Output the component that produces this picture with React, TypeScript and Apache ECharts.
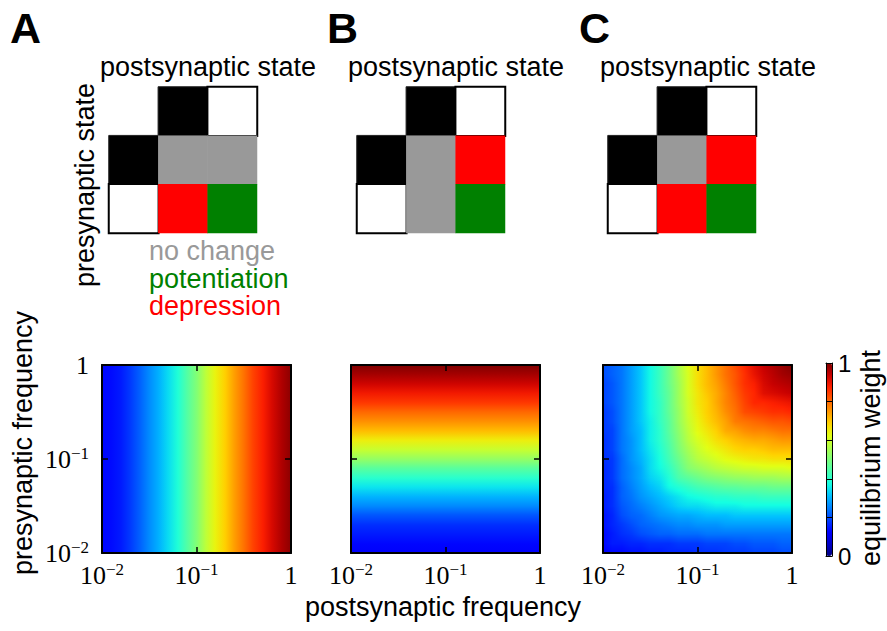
import React, { useEffect, useRef } from 'react';
import * as echarts from 'echarts';

// log10 of frequency at each sample (10^-2 … 1)
const freqExponents = ['-2.0', '-1.9', '-1.8', '-1.7', '-1.6', '-1.5', '-1.4', '-1.3', '-1.2', '-1.1', '-1.0',
  '-0.9', '-0.8', '-0.7', '-0.6', '-0.5', '-0.4', '-0.3', '-0.2', '-0.1', '0.0'];

// axis ticks (log10) and their labels
const tickExponents = [-2, -1, 0];
const tickBases = ['10', '10', '1'];
const tickPowers = ['−2', '−1', ''];

// A: equilibrium weight vs postsynaptic frequency (constant along presynaptic)
const weightA = [0.13, 0.135, 0.15, 0.18, 0.22, 0.26, 0.30, 0.34, 0.39, 0.45, 0.51,
  0.58, 0.64, 0.69, 0.74, 0.79, 0.84, 0.88, 0.92, 0.96, 0.99];

// B: equilibrium weight vs presynaptic frequency (constant along postsynaptic)
const weightB = [0.12, 0.13, 0.15, 0.17, 0.21, 0.26, 0.30, 0.35, 0.40, 0.46, 0.53,
  0.59, 0.65, 0.71, 0.76, 0.80, 0.85, 0.89, 0.93, 0.97, 1.0];

// C: rows from presynaptic 1 (top) to 10^-2 (bottom); columns postsynaptic 10^-2 … 1
const weightC = [
  [0.20, 0.22, 0.24, 0.28, 0.32, 0.37, 0.42, 0.48, 0.55, 0.62, 0.67, 0.71, 0.75, 0.79, 0.83, 0.87, 0.91, 0.94, 0.96, 0.98, 1.00],
  [0.20, 0.22, 0.24, 0.28, 0.32, 0.37, 0.42, 0.48, 0.55, 0.61, 0.67, 0.71, 0.75, 0.79, 0.82, 0.86, 0.90, 0.93, 0.95, 0.97, 0.98],
  [0.19, 0.21, 0.24, 0.28, 0.32, 0.37, 0.42, 0.48, 0.54, 0.61, 0.67, 0.71, 0.74, 0.78, 0.82, 0.86, 0.88, 0.92, 0.94, 0.95, 0.96],
  [0.19, 0.21, 0.24, 0.28, 0.32, 0.37, 0.42, 0.47, 0.54, 0.61, 0.66, 0.70, 0.73, 0.77, 0.81, 0.85, 0.87, 0.91, 0.92, 0.93, 0.94],
  [0.19, 0.21, 0.24, 0.28, 0.32, 0.37, 0.41, 0.47, 0.54, 0.60, 0.66, 0.69, 0.73, 0.77, 0.80, 0.84, 0.87, 0.87, 0.88, 0.89, 0.90],
  [0.18, 0.20, 0.24, 0.28, 0.32, 0.37, 0.41, 0.47, 0.53, 0.60, 0.65, 0.69, 0.72, 0.76, 0.79, 0.83, 0.84, 0.85, 0.86, 0.86, 0.87],
  [0.18, 0.20, 0.24, 0.28, 0.32, 0.36, 0.41, 0.46, 0.53, 0.59, 0.64, 0.68, 0.71, 0.74, 0.78, 0.79, 0.80, 0.81, 0.82, 0.82, 0.83],
  [0.18, 0.19, 0.24, 0.28, 0.31, 0.36, 0.40, 0.46, 0.52, 0.58, 0.63, 0.66, 0.69, 0.73, 0.74, 0.76, 0.77, 0.77, 0.78, 0.79, 0.79],
  [0.17, 0.19, 0.24, 0.27, 0.31, 0.36, 0.40, 0.45, 0.51, 0.57, 0.61, 0.64, 0.67, 0.69, 0.71, 0.72, 0.73, 0.73, 0.74, 0.75, 0.75],
  [0.17, 0.19, 0.24, 0.27, 0.31, 0.35, 0.39, 0.44, 0.50, 0.55, 0.59, 0.62, 0.64, 0.66, 0.68, 0.69, 0.69, 0.70, 0.71, 0.71, 0.71],
  [0.17, 0.18, 0.23, 0.27, 0.30, 0.34, 0.38, 0.43, 0.48, 0.53, 0.57, 0.59, 0.61, 0.63, 0.64, 0.65, 0.66, 0.66, 0.67, 0.67, 0.67],
  [0.16, 0.18, 0.23, 0.26, 0.29, 0.34, 0.37, 0.41, 0.46, 0.51, 0.53, 0.55, 0.57, 0.58, 0.59, 0.60, 0.60, 0.61, 0.61, 0.61, 0.62],
  [0.16, 0.18, 0.23, 0.26, 0.29, 0.33, 0.35, 0.39, 0.44, 0.46, 0.48, 0.50, 0.51, 0.52, 0.53, 0.53, 0.54, 0.54, 0.54, 0.55, 0.55],
  [0.16, 0.17, 0.22, 0.25, 0.28, 0.31, 0.33, 0.37, 0.39, 0.41, 0.43, 0.44, 0.45, 0.46, 0.46, 0.47, 0.47, 0.47, 0.48, 0.48, 0.48],
  [0.15, 0.17, 0.22, 0.24, 0.27, 0.29, 0.31, 0.33, 0.35, 0.37, 0.38, 0.39, 0.40, 0.40, 0.41, 0.41, 0.41, 0.42, 0.42, 0.42, 0.42],
  [0.15, 0.17, 0.21, 0.23, 0.25, 0.27, 0.29, 0.31, 0.33, 0.34, 0.34, 0.35, 0.36, 0.36, 0.36, 0.37, 0.37, 0.37, 0.37, 0.37, 0.37],
  [0.14, 0.16, 0.20, 0.22, 0.23, 0.25, 0.27, 0.28, 0.29, 0.29, 0.30, 0.31, 0.31, 0.31, 0.32, 0.32, 0.32, 0.32, 0.32, 0.32, 0.32],
  [0.14, 0.16, 0.18, 0.20, 0.22, 0.23, 0.24, 0.25, 0.26, 0.26, 0.27, 0.27, 0.27, 0.28, 0.28, 0.28, 0.28, 0.28, 0.28, 0.28, 0.28],
  [0.13, 0.15, 0.17, 0.18, 0.20, 0.21, 0.22, 0.22, 0.23, 0.23, 0.23, 0.24, 0.24, 0.24, 0.24, 0.24, 0.24, 0.24, 0.24, 0.24, 0.24],
  [0.13, 0.15, 0.15, 0.16, 0.16, 0.17, 0.17, 0.17, 0.18, 0.18, 0.18, 0.19, 0.19, 0.19, 0.20, 0.20, 0.21, 0.21, 0.21, 0.22, 0.22],
  [0.12, 0.13, 0.13, 0.14, 0.14, 0.15, 0.15, 0.16, 0.16, 0.16, 0.17, 0.17, 0.17, 0.18, 0.18, 0.18, 0.19, 0.19, 0.19, 0.20, 0.20],
];

// schematic plasticity rules: rows = presynaptic state (black, white), cols = postsynaptic state (black, white)
const outcomes = ['no change', 'potentiation', 'depression'];
const outcomeColors = ['#999999', '#008000', '#ff0000'];
const stateColors = ['#000000', '#ffffff'];
const ruleA = [['no change', 'no change'], ['depression', 'potentiation']];
const ruleB = [['no change', 'depression'], ['no change', 'potentiation']];
const ruleC = [['no change', 'depression'], ['depression', 'potentiation']];
const panelLetters = ['A', 'B', 'C'];

const jetColors = ['#000080', '#0000c8', '#0000ff', '#0040ff', '#0080ff', '#00bfff', '#14ffe2', '#48ffaf',
  '#7bff7b', '#afff48', '#e2ff14', '#ffd200', '#ff9700', '#ff5c00', '#ff2100', '#c80000', '#800000'];

const SANS = 'Liberation Sans';
const SERIF = 'Liberation Serif';

const jetRgb = jetColors.map((h) => [1, 3, 5].map((p) => parseInt(h.slice(p, p + 2), 16)));
function jet(v: number) {
  const t = Math.max(0, Math.min(1, v)) * (jetRgb.length - 1);
  const k = Math.min(jetRgb.length - 2, Math.floor(t));
  const f = t - k;
  const c = jetRgb[k].map((a, n) => Math.round(a + (jetRgb[k + 1][n] - a) * f));
  return `rgb(${c[0]},${c[1]},${c[2]})`;
}

const exps = freqExponents.map(Number);
const N = exps.length;

function gradientRect(x: number, y: number, w: number, h: number, colors: string[], horizontal: boolean) {
  const stops = colors.map((color, k) => ({ offset: k / (colors.length - 1), color }));
  return {
    type: 'rect',
    shape: { x, y, width: w, height: h },
    style: { fill: new echarts.graphic.LinearGradient(0, 0, horizontal ? 1 : 0, horizontal ? 0 : 1, stops) },
  };
}

function buildOption() {
  const mapLefts = [102, 351, 603];
  const schemeLefts = [109, 357, 608];
  const grid: any[] = mapLefts.map((l) => ({ left: l, top: 365, width: 189, height: 188 }));
  grid.push({ left: 826, top: 363, width: 6, height: 193 });
  schemeLefts.forEach((l) => grid.push({ left: l, top: 87, width: 148, height: 146 }));

  const tickFormatter = (v: number) => {
    const k = tickExponents.indexOf(Math.round(v));
    if (k < 0) return '';
    return tickPowers[k] ? `{b|${tickBases[k]}}{p|${tickPowers[k]}}` : `{b|${tickBases[k]}}`;
  };
  const rich = {
    b: { fontFamily: SERIF, fontSize: 26, lineHeight: 28, color: '#000' },
    p: { fontFamily: SERIF, fontSize: 17, lineHeight: 17, verticalAlign: 'top', color: '#000' },
  };
  const valueAxis = (k: number, position: string, labels: boolean) => ({
    gridIndex: k, type: 'value', position, min: tickExponents[0], max: tickExponents[2], interval: 1, z: 5,
    axisLine: { show: true, onZero: false, lineStyle: { color: '#000', width: 2 } },
    axisTick: { show: true, inside: true, length: 6, lineStyle: { color: '#000', width: 1.5 } },
    splitLine: { show: false },
    axisLabel: { show: labels, margin: position === 'bottom' ? 8 : 13, formatter: tickFormatter, rich },
  });

  const xAxis: any[] = [];
  const yAxis: any[] = [];
  mapLefts.forEach((_, k) => {
    xAxis.push(valueAxis(k, 'bottom', true));
    xAxis.push(valueAxis(k, 'top', false));
    yAxis.push(valueAxis(k, 'left', k === 0));
    yAxis.push(valueAxis(k, 'right', false));
  });
  const cbLine = { show: true, onZero: false, lineStyle: { color: '#000', width: 1 } };
  const plain = { axisTick: { show: false }, axisLabel: { show: false }, splitLine: { show: false } };
  xAxis.push({ gridIndex: 3, type: 'value', min: 0, max: 1, position: 'bottom', z: 10, axisLine: cbLine, ...plain });
  xAxis.push({ gridIndex: 3, type: 'value', min: 0, max: 1, position: 'top', z: 10, axisLine: cbLine, ...plain });
  yAxis.push({ gridIndex: 3, type: 'value', min: 0, max: 1, interval: 0.2, position: 'right', z: 10, axisLine: cbLine,
    axisTick: { show: true, inside: true, length: 6, lineStyle: { color: '#000', width: 1 } },
    axisLabel: { margin: 6, fontFamily: SANS, fontSize: 24, color: '#000',
      formatter: (v: number) => (v === 0 || v === 1 ? String(v) : '') },
    splitLine: { show: false } });
  yAxis.push({ gridIndex: 3, type: 'value', min: 0, max: 1, position: 'left', z: 10, axisLine: cbLine, ...plain });
  const schemeAxisStart = xAxis.length;
  schemeLefts.forEach((_, s) => {
    xAxis.push({ gridIndex: 4 + s, type: 'category', data: ['pre', 'post black', 'post white'], show: false });
    yAxis.push({ gridIndex: 4 + s, type: 'category', data: ['post', 'pre black', 'pre white'], show: false, inverse: true });
  });

  const box = (api: any) => {
    const tl = api.coord([exps[0], exps[N - 1]]);
    const br = api.coord([exps[N - 1], exps[0]]);
    return { l: Math.round(tl[0]), t: Math.round(tl[1]), r: Math.round(br[0]), b: Math.round(br[1]) };
  };

  // A: segments between consecutive postsynaptic samples
  const seriesA = {
    type: 'custom', xAxisIndex: 0, yAxisIndex: 0, silent: true, clip: true,
    data: exps.map((e, i) => [e, weightA[i]]),
    renderItem: (params: any, api: any) => {
      const i = params.dataIndex;
      if (i >= N - 1) return null;
      const bx = box(api);
      const x0 = Math.round(api.coord([exps[i], 0])[0]);
      const x1 = Math.round(api.coord([exps[i + 1], 0])[0]);
      return gradientRect(x0, bx.t, x1 - x0, bx.b - bx.t, [jet(weightA[i]), jet(weightA[i + 1])], true);
    },
  };
  // B: segments between consecutive presynaptic samples (gradient top → bottom)
  const seriesB = {
    type: 'custom', xAxisIndex: 2, yAxisIndex: 2, silent: true, clip: true,
    data: exps.map((e, j) => [e, weightB[j]]),
    renderItem: (params: any, api: any) => {
      const j = params.dataIndex;
      if (j >= N - 1) return null;
      const bx = box(api);
      const yTop = Math.round(api.coord([0, exps[j + 1]])[1]);
      const yBot = Math.round(api.coord([0, exps[j]])[1]);
      return gradientRect(bx.l, yTop, bx.r - bx.l, yBot - yTop, [jet(weightB[j + 1]), jet(weightB[j])], false);
    },
  };
  // C: one band between consecutive presynaptic sample rows, shaded line by line
  const seriesC = {
    type: 'custom', xAxisIndex: 4, yAxisIndex: 4, silent: true, clip: true,
    data: weightC.slice(0, N - 1).map((_, r) => [exps[0], exps[N - 1 - r]]),
    renderItem: (params: any, api: any) => {
      const r = params.dataIndex;
      const bx = box(api);
      const yTop = api.coord([exps[0], exps[N - 1 - r]])[1];
      const yBot = api.coord([exps[0], exps[N - 2 - r]])[1];
      const children: any[] = [];
      for (let p = Math.round(yTop); p < Math.round(yBot); p++) {
        const t = Math.min(1, Math.max(0, (p + 0.5 - yTop) / (yBot - yTop)));
        const colors = weightC[r].map((v, i) => jet(v + (weightC[r + 1][i] - v) * t));
        children.push(gradientRect(bx.l, p, bx.r - bx.l, 1, colors, true));
      }
      return { type: 'group', children };
    },
  };

  // codes: 0..2 outcomes, 3 black state, 4 white state
  const schemeData = (rule: string[][]) => {
    const d: any[] = [];
    stateColors.forEach((_, c) => d.push({
      value: [c + 1, 0, 3 + c],
      itemStyle: c === 1 ? { borderColor: '#000', borderWidth: 2 } : { borderColor: '#222', borderWidth: 1 },
    }));
    stateColors.forEach((_, r) => d.push({
      value: [0, r + 1, 3 + r],
      itemStyle: r === 1 ? { borderColor: '#000', borderWidth: 2 } : { borderColor: '#222', borderWidth: 1 },
    }));
    rule.forEach((row, r) => row.forEach((o, c) => d.push({ value: [c + 1, r + 1, outcomes.indexOf(o)] })));
    return d;
  };

  const series: any[] = [seriesA, seriesB, seriesC];
  const schemeSeriesStart = series.length;
  [ruleA, ruleB, ruleC].forEach((rule, s) => series.push({
    type: 'heatmap', xAxisIndex: schemeAxisStart + s, yAxisIndex: schemeAxisStart + s,
    data: schemeData(rule), silent: true,
  }));

  const text = (t: string, x: number, y: number, o: any = {}) => ({
    type: 'text', x, y, rotation: o.rotation || 0, silent: true,
    style: {
      text: t, fontFamily: SANS, fontSize: o.fontSize || 27, fontWeight: o.fontWeight || 'normal',
      fill: o.fill || '#000', textAlign: o.align || 'center', textVerticalAlign: 'middle',
    },
  });
  const graphic: any[] = [];
  const letterX = [10, 327, 579];
  const titleX = [208, 456, 708];
  panelLetters.forEach((l, k) => {
    graphic.push(text(l, letterX[k], 28, { fontSize: 43, fontWeight: 'bold', align: 'left' }));
    graphic.push(text('postsynaptic state', titleX[k], 67));
  });
  graphic.push(text('presynaptic state', 85, 185, { rotation: Math.PI / 2 }));
  const legendY = [251, 278.5, 306];
  outcomes.forEach((o, k) => graphic.push(text(o, 149, legendY[k], { fill: outcomeColors[k], align: 'left' })));
  graphic.push(text('presynaptic frequency', 23, 443, { rotation: Math.PI / 2 }));
  graphic.push(text('postsynaptic frequency', 443, 607));
  graphic.push(text('equilibrium weight', 871, 458, { rotation: Math.PI / 2 }));

  return {
    animation: false,
    backgroundColor: '#ffffff',
    textStyle: { fontFamily: SANS },
    grid,
    xAxis,
    yAxis,
    visualMap: [
      {
        type: 'continuous', min: 0, max: 1, seriesIndex: [0], dimension: 1,
        inRange: { color: jetColors }, left: 826, top: 363, itemWidth: 6, itemHeight: 193,
        padding: 0, calculable: false, hoverLink: false, show: true,
      },
      {
        type: 'piecewise', show: false, dimension: 2,
        seriesIndex: [schemeSeriesStart, schemeSeriesStart + 1, schemeSeriesStart + 2],
        pieces: [
          { value: 0, color: outcomeColors[0] },
          { value: 1, color: outcomeColors[1] },
          { value: 2, color: outcomeColors[2] },
          { value: 3, color: stateColors[0] },
          { value: 4, color: stateColors[1] },
        ],
      },
    ],
    series,
    graphic,
  };
}

export default function App() {
  const ref = useRef<HTMLDivElement>(null);
  useEffect(() => {
    document.body.style.margin = '0';
    const chart = echarts.init(ref.current as HTMLDivElement, null, { renderer: 'svg' });
    chart.setOption(buildOption() as any);
    return () => chart.dispose();
  }, []);
  return (
    <div
      ref={ref}
      style={{ position: 'fixed', left: 0, top: 0, width: 887, height: 631, background: '#ffffff' }}
    />
  );
}
